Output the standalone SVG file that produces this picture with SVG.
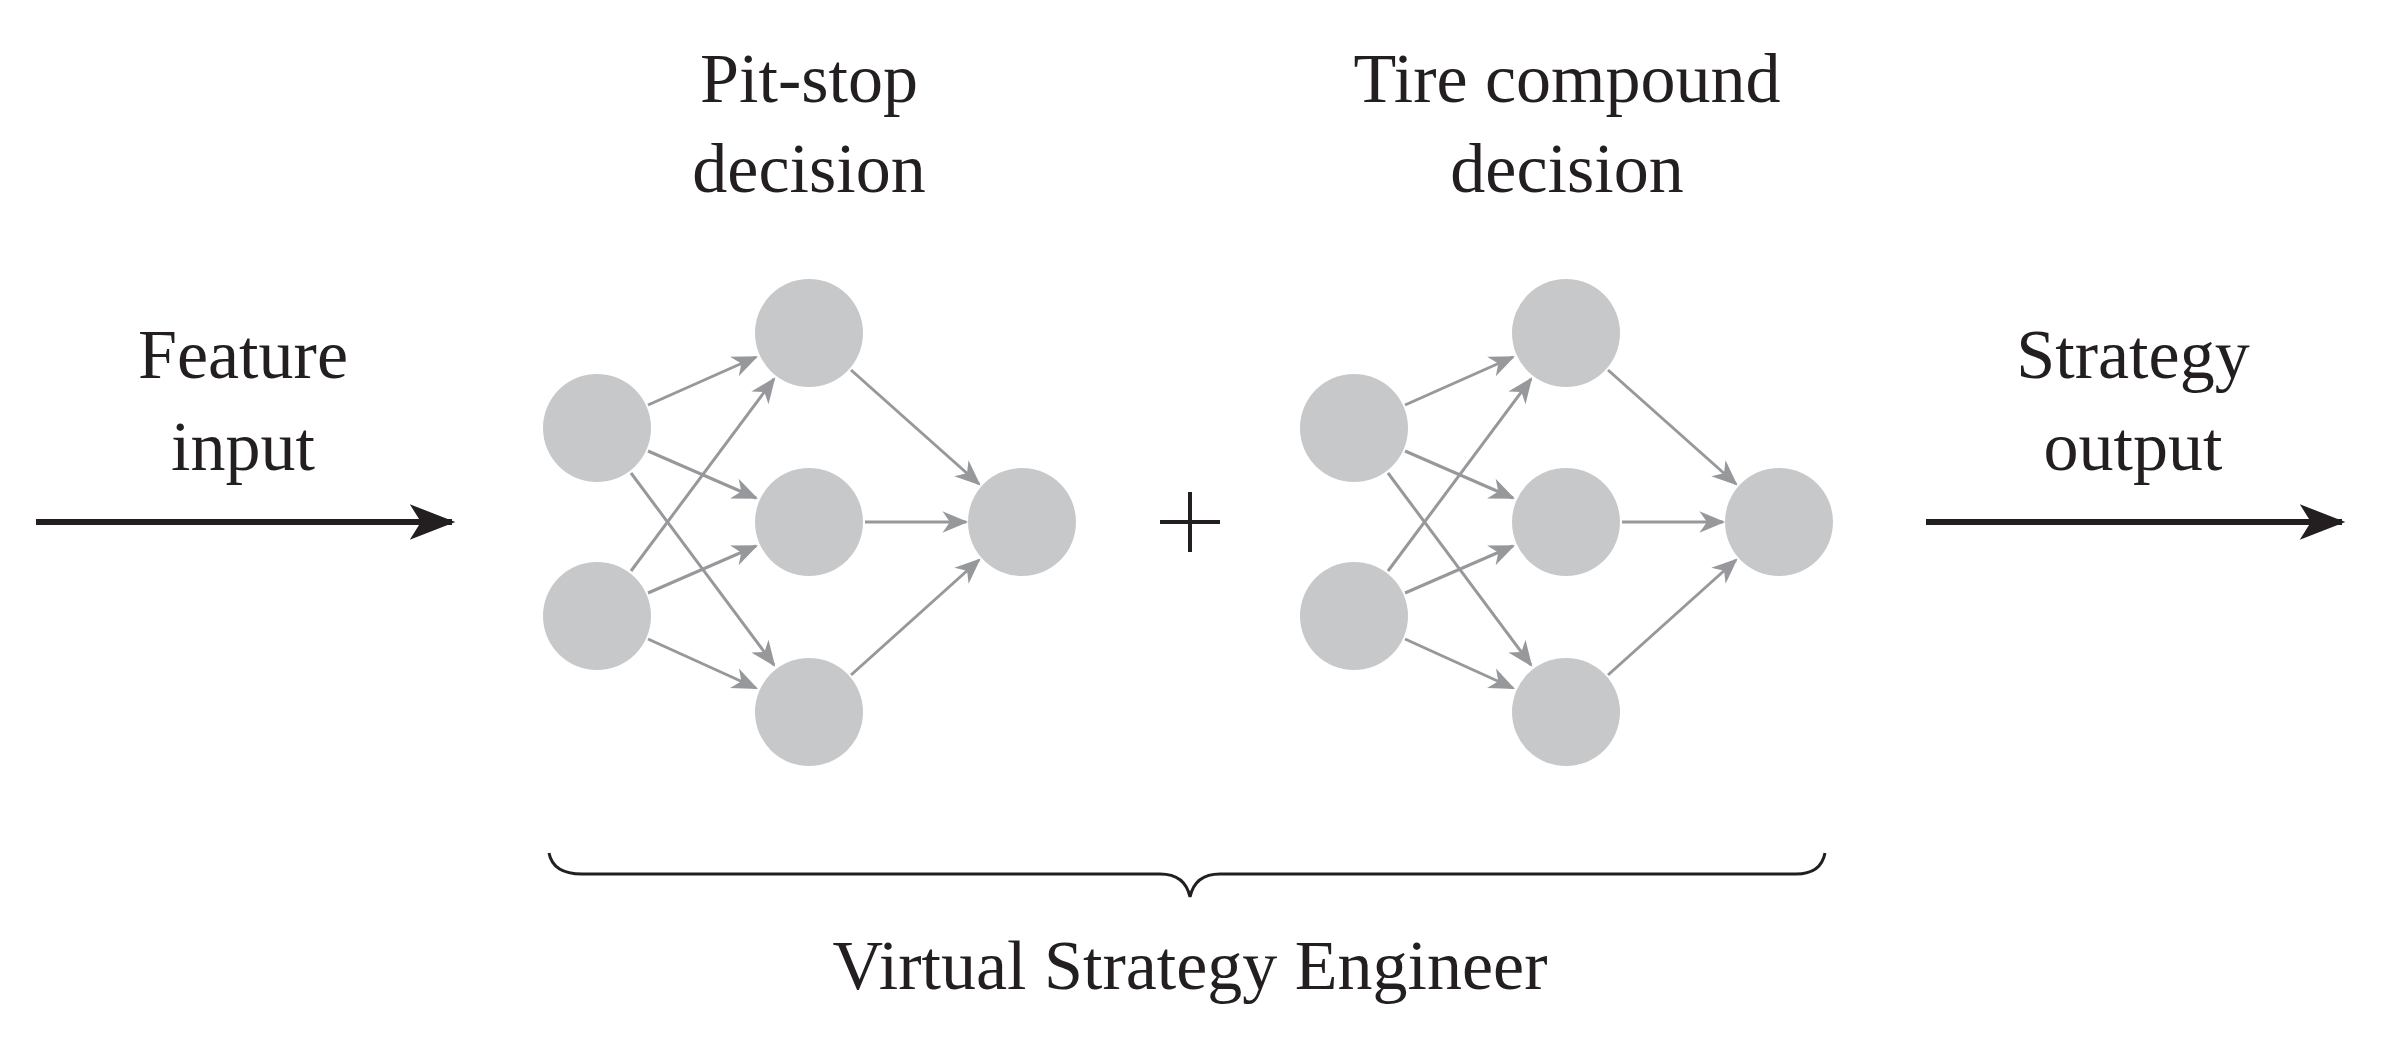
<svg xmlns="http://www.w3.org/2000/svg" width="2384" height="1037" viewBox="0 0 2384 1037">
<style>
text{font-family:"Liberation Serif","DejaVu Serif",serif;font-size:70px;fill:#231f20;text-anchor:middle}
.n{fill:#c7c8ca}
.e{stroke:#97989b;stroke-width:3;fill:none;marker-end:url(#g)}
.a{stroke:#231f20;stroke-width:6;fill:none;marker-end:url(#k)}
</style>
<defs>
<marker id="g" markerUnits="userSpaceOnUse" markerWidth="30" markerHeight="30" viewBox="-24 -12 28 24" refX="0" refY="0" orient="auto"><path d="M2,0 L-22,-10 L-15,0 L-22,10 Z" fill="#97989b"/></marker>
<marker id="k" markerUnits="userSpaceOnUse" markerWidth="50" markerHeight="40" viewBox="-40 -18 44 36" refX="0" refY="0" orient="auto"><path d="M3,0 L-38,-16 L-28,0 L-38,16 Z" fill="#231f20"/></marker>
<g id="net">
<line class="e" x1="648" y1="405" x2="756" y2="357"/>
<line class="e" x1="648" y1="451" x2="756" y2="498"/>
<line class="e" x1="631" y1="473" x2="774" y2="665"/>
<line class="e" x1="631" y1="571" x2="774" y2="379"/>
<line class="e" x1="648" y1="593" x2="756" y2="546"/>
<line class="e" x1="648" y1="639" x2="756" y2="688"/>
<line class="e" x1="851" y1="370" x2="979" y2="484"/>
<line class="e" x1="865" y1="522" x2="966" y2="522"/>
<line class="e" x1="851" y1="675" x2="979" y2="560"/>
<ellipse class="n" cx="597" cy="428" rx="54" ry="54"/>
<ellipse class="n" cx="597" cy="616" rx="54" ry="54"/>
<ellipse class="n" cx="809" cy="333" rx="54" ry="54"/>
<ellipse class="n" cx="809" cy="522" rx="54" ry="54"/>
<ellipse class="n" cx="809" cy="712" rx="54" ry="54"/>
<ellipse class="n" cx="1022" cy="522" rx="54" ry="54"/>
</g>
</defs>
<g id="connectors">
<line class="a" x1="36" y1="522" x2="452" y2="522"/>
<line class="a" x1="1926" y1="522" x2="2342" y2="522"/>
<path d="M549,853 Q553,874 582,874 L1160,874 Q1185,874 1190,897 Q1195,874 1220,874 L1796,874 Q1821,874 1825,853" fill="none" stroke="#231f20" stroke-width="3"/>
</g>
<g id="pitstop-net"><use href="#net"/></g>
<g id="tire-net"><use href="#net" transform="translate(757,0)"/></g>
<g id="plus"><path d="M1160,522 H1220 M1190,492 V552" stroke="#231f20" stroke-width="4"/></g>
<g id="labels">
<text x="809" y="102">Pit-stop</text>
<text x="809" y="192">decision</text>
<text x="1567" y="102">Tire compound</text>
<text x="1567" y="192">decision</text>
<text x="243" y="378">Feature</text>
<text x="243" y="470">input</text>
<text x="2133" y="378">Strategy</text>
<text x="2133" y="470">output</text>
<text x="1190" y="989">Virtual Strategy Engineer</text>
</g>
</svg>
